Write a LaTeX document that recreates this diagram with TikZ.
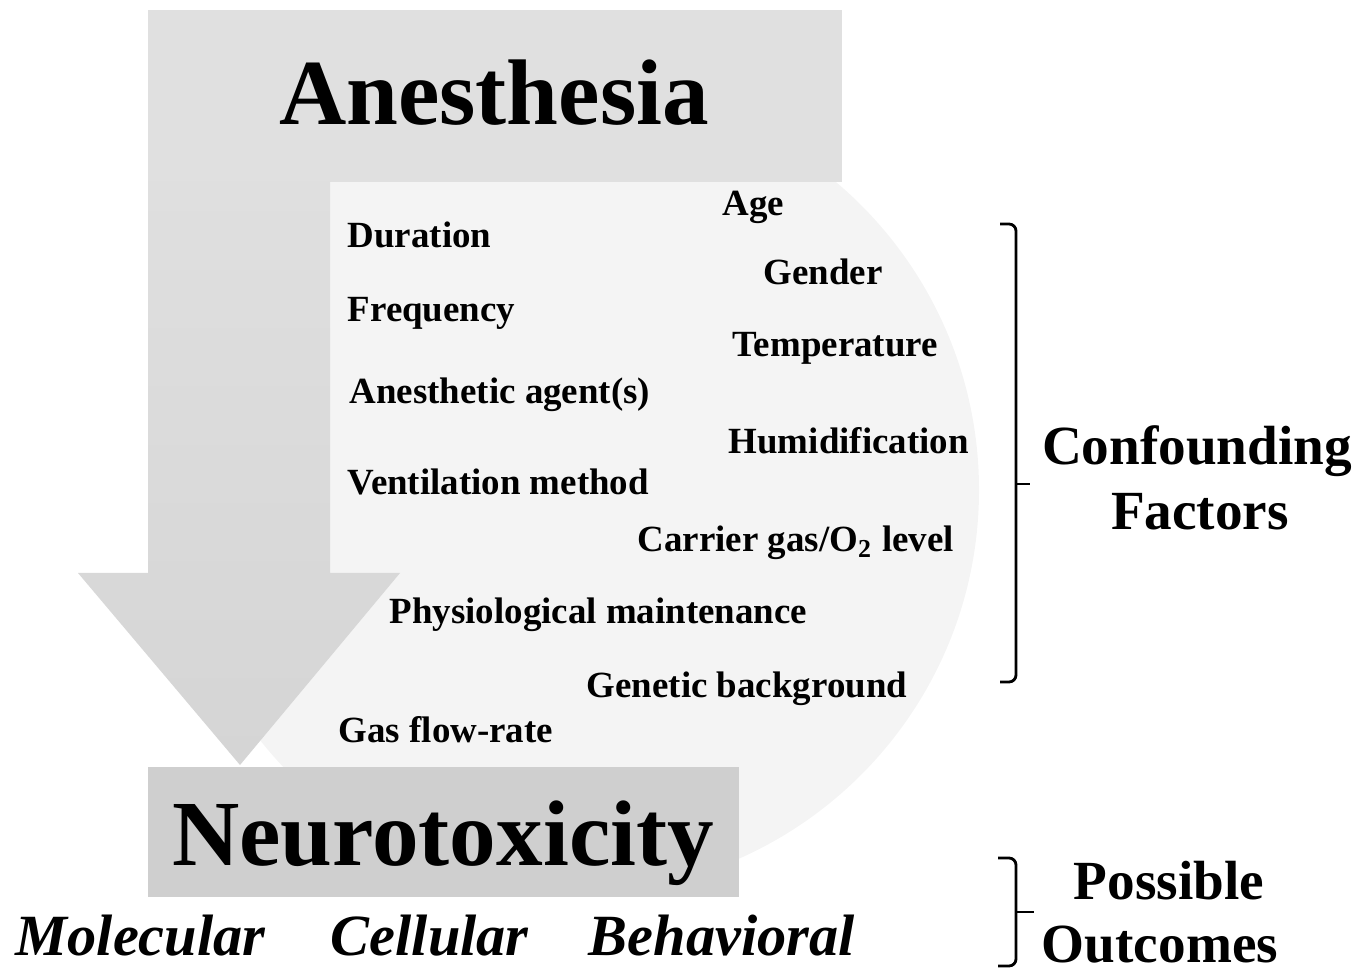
\documentclass[tikz,border=0pt]{standalone}
\usepackage{fontspec}
\setmainfont{Liberation Serif}
\usetikzlibrary{positioning}
\definecolor{topgray}{RGB}{224,224,224}
\definecolor{boxgray}{RGB}{207,207,207}
\definecolor{discgray}{RGB}{244,244,244}
\definecolor{shafttop}{RGB}{223,223,223}
\definecolor{shaftbot}{RGB}{213,213,213}

\begin{document}
\begin{tikzpicture}[x=0.01cm, y=-0.01cm,
  factor/.style={anchor=base west, inner sep=0pt, font=\fontsize{10.5}{12}\selectfont\bfseries},
  bigtitle/.style={anchor=base, inner sep=0pt, font=\fontsize{26.5}{30}\selectfont\bfseries},
  sidelabel/.style={anchor=base, inner sep=0pt, font=\fontsize{15.7}{18}\selectfont\bfseries},
  outcome/.style={anchor=base west, inner sep=0pt, font=\fontsize{16.6}{19}\selectfont\bfseries\itshape},
  panel/.style={inner sep=0pt, draw=none},
  bracket/.style={line width=0.8pt, rounded corners=2pt}]
  \useasboundingbox (0,0) rectangle (1371,971);

  % light disc behind the factors
  \fill[discgray] (576,490) circle[radius=403];

  % boxes and the big arrow
  \node[panel, fill=topgray, minimum width=6.94cm, minimum height=1.72cm] (anesbox) at (495,96) {};
  \shade[top color=shafttop, bottom color=shaftbot] (148,182) -- (330,182) -- (330,573) -- (400,573)
    -- (240,765) -- (78,573) -- (148,573) -- cycle;
  \node[panel, fill=boxgray, minimum width=5.91cm, minimum height=1.30cm] (neurobox) at (443.5,832) {};

  \node[bigtitle] (anes) at (494,125) {Anesthesia};
  \node[bigtitle] (neuro) at (443,865) {Neurotoxicity};

  % confounding factors
  \node[factor] (duration) at (347,248) {Duration};
  \node[factor] (frequency) at (347,322) {Frequency};
  \node[factor] (agent) at (349,404) {Anesthetic agent(s)};
  \node[factor] (ventilation) at (347,495) {Ventilation method};
  \node[factor] (physio) at (389,624) {Physiological maintenance};
  \node[factor] (flowrate) at (338,742) {Gas flow-rate};
  \node[factor] (age) at (722,216) {Age};
  \node[factor] (gender) at (763,285) {Gender};
  \node[factor] (temp) at (732,357) {Temperature};
  \node[factor] (humid) at (728,454) {Humidification};
  \node[factor] (carrier) at (637,552) {Carrier gas/O\textsubscript{2} level};
  \node[factor] (genetic) at (586,698) {Genetic background};

  % outcomes
  \node[outcome] (molecular) at (15,955) {Molecular};
  \node[outcome] (cellular) at (330,955) {Cellular};
  \node[outcome] (behavioral) at (588,955) {Behavioral};

  % brackets and side labels
  \draw[bracket] (1000,224) -| (1016,682) -- (1000,682);
  \draw[line width=0.8pt] (1016,484) -- (1030,484);
  \node[sidelabel] (confounding) at (1197,465) {Confounding};
  \node[sidelabel] (factors) at (1200,530) {Factors};

  \draw[bracket] (998,858) -| (1016,966) -- (998,966);
  \draw[line width=0.8pt] (1016,912) -- (1034,912);
  \node[sidelabel] (possible) at (1169,899) {Possible};
  \node[sidelabel] (outcomes) at (1160,962) {Outcomes};
\end{tikzpicture}
\end{document}
